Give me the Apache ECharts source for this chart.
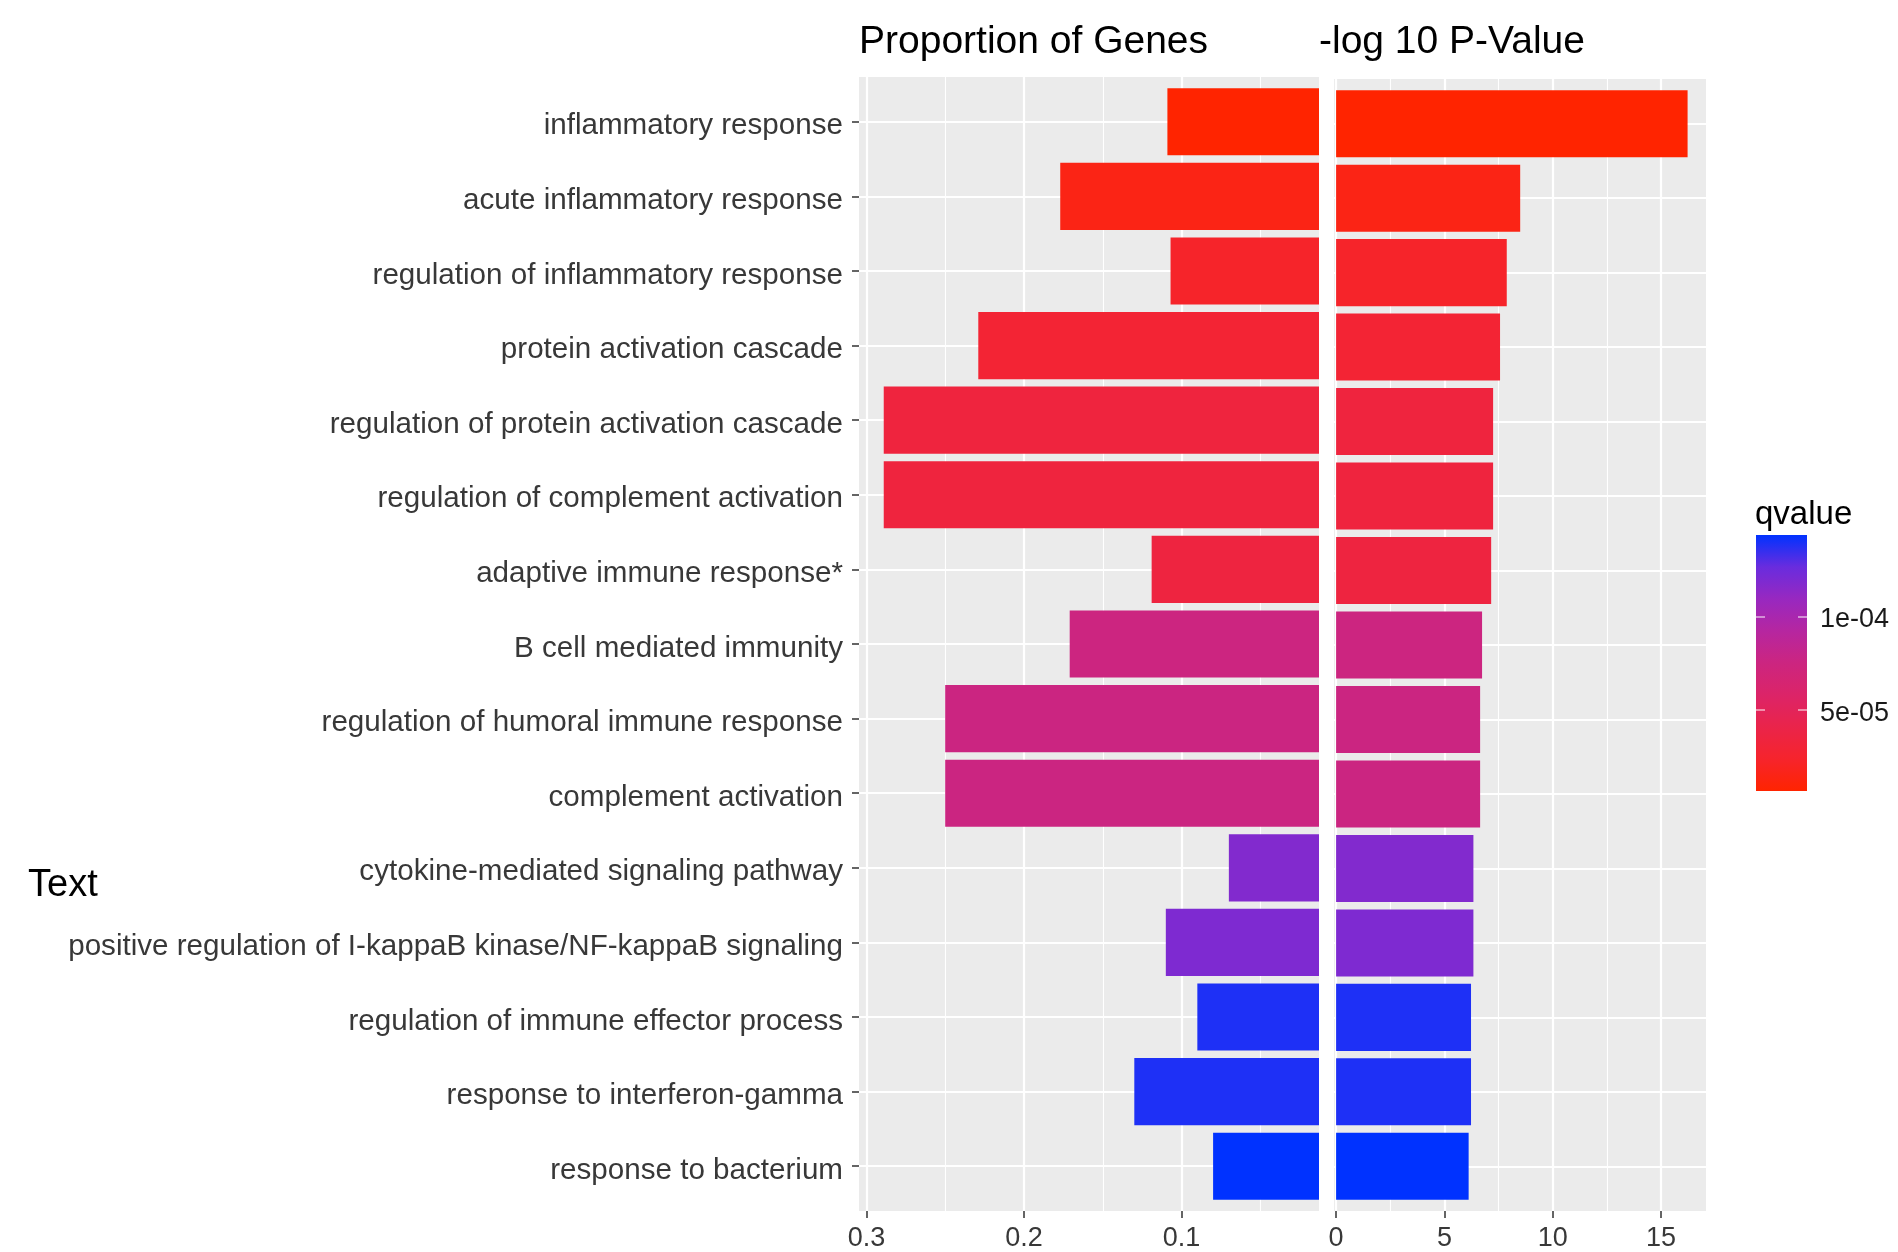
<!DOCTYPE html>
<html>
<head>
<meta charset="utf-8">
<script src="https://cdn.jsdelivr.net/npm/echarts@6/dist/echarts.min.js"></script>
<style>
html,body{margin:0;padding:0;background:#fff;}
#c{width:1898px;height:1252px;}
</style>
</head>
<body>
<div id="c"></div>
<script>
// ---------------- data ----------------
const categories = [
  'inflammatory response',
  'acute inflammatory response',
  'regulation of inflammatory response',
  'protein activation cascade',
  'regulation of protein activation cascade',
  'regulation of complement activation',
  'adaptive immune response*',
  'B cell mediated immunity',
  'regulation of humoral immune response',
  'complement activation',
  'cytokine-mediated signaling pathway',
  'positive regulation of I-kappaB kinase/NF-kappaB signaling',
  'regulation of immune effector process',
  'response to interferon-gamma',
  'response to bacterium'
];
const proportion = [0.109, 0.177, 0.107, 0.229, 0.289, 0.289, 0.119, 0.171, 0.250, 0.250, 0.070, 0.110, 0.090, 0.130, 0.080];
const negLog10P  = [16.23, 8.50, 7.88, 7.57, 7.25, 7.25, 7.16, 6.74, 6.65, 6.65, 6.34, 6.34, 6.23, 6.23, 6.12];
const qvalue     = [6.9e-06, 1.51e-05, 2.33e-05, 2.88e-05, 3.42e-05, 3.42e-05, 3.56e-05, 7.52e-05, 7.6e-05, 7.6e-05, 1.175e-04, 1.189e-04, 1.387e-04, 1.387e-04, 1.435e-04];

const propTicks = [0.1, 0.2, 0.3];
const propMinorTicks = [0.05, 0.15, 0.25];
const pTicks = [0, 5, 10, 15];
const pMinorTicks = [2.5, 7.5, 12.5];
const qTicks = [5e-05, 1e-04];
const qTickLabels = ['5e-05', '1e-04'];

const titleLeft = 'Proportion of Genes';
const titleRight = '-log 10 P-Value';
const legendTitle = 'qvalue';
const sideText = 'Text';

// ---------------- styling / layout ----------------
const FONT = "'Liberation Sans', Arial, Helvetica, sans-serif";
const palette = ['#FF2400', '#F6242C', '#EA244A', '#DC2468', '#CC2580', '#B626A0', '#9828C0', '#692CDE', '#0032FF'];
const PANEL_BG = '#EBEBEB';
const AXIS_TEXT = '#383838';
const TICK = '#333333';

const qMin = Math.min(...qvalue);
const qMax = Math.max(...qvalue);
const catPos = categories.map((c, i) => i + 1);

// panel geometry (ggplot discrete expansion 0.6 on each side)
const L = {left: 859, top: 77, width: 460, height: 1134};
const R = {left: 1334, top: 79, width: 372, height: 1132};
function inner(p) {
  const unit = p.height / (categories.length + 0.2);
  return {left: p.left, width: p.width, top: p.top + 0.1 * unit, height: unit * categories.length};
}
const Li = inner(L), Ri = inner(R);

const leftMin = 0.0128, leftMax = 0.3047;
const rightMin = -0.097, rightMax = 17.08;

function grid(p, bg) {
  return Object.assign({
    outerBoundsMode: 'none', containLabel: false,
    show: !!bg, backgroundColor: bg || 'transparent', borderWidth: 0
  }, p);
}

const majorSplit = {show: true, lineStyle: {color: '#FFFFFF', width: 2.2}};
const minorSplit = {show: true, lineStyle: {color: '#FFFFFF', width: 1.1}};

function valueX(gridIndex, min, max, inverse, ticks, opts) {
  return Object.assign({
    type: 'value', gridIndex, min, max, inverse,
    axisLine: {show: false},
    axisTick: {show: true, length: 7, customValues: ticks, lineStyle: {color: TICK, width: 1.5}},
    axisLabel: {show: true, customValues: ticks, fontSize: 27, color: AXIS_TEXT, fontFamily: FONT, margin: 14,
                formatter: v => String(v)},
    splitLine: majorSplit, minorSplitLine: {show: false}
  }, opts || {});
}
function minorX(gridIndex, min, max, inverse, ticks) {
  return {
    type: 'value', gridIndex, min, max, inverse, position: 'top',
    axisLine: {show: false},
    axisTick: {show: false, customValues: ticks},
    axisLabel: {show: false, customValues: ticks},
    splitLine: minorSplit
  };
}
function hiddenX(gridIndex, min, max, inverse) {
  return {type: 'value', gridIndex, min, max, inverse, show: false, splitLine: {show: false}};
}

const option = {
  animation: false,
  backgroundColor: '#FFFFFF',
  textStyle: {fontFamily: FONT},
  title: [
    {text: titleLeft, left: 859, top: 23, padding: 0,
     textStyle: {fontSize: 39, fontWeight: 'normal', color: '#000', fontFamily: FONT}},
    {text: titleRight, left: 1319, top: 23, padding: 0,
     textStyle: {fontSize: 39, fontWeight: 'normal', color: '#000', fontFamily: FONT}},
    {text: legendTitle, left: 1755, top: 498, padding: 0,
     textStyle: {fontSize: 33, fontWeight: 'normal', color: '#000', fontFamily: FONT}},
    {text: sideText, left: 28, top: 867, padding: 0,
     textStyle: {fontSize: 38, fontWeight: 'normal', color: '#000', fontFamily: FONT}}
  ],
  grid: [
    grid(L, PANEL_BG),
    grid(Li),
    grid(R, PANEL_BG),
    grid(Ri),
    grid({left: 1756, top: 535, width: 51, height: 256})
  ],
  xAxis: [
    valueX(0, leftMin, leftMax, true, propTicks),
    minorX(0, leftMin, leftMax, true, propMinorTicks),
    hiddenX(1, leftMin, leftMax, true),
    valueX(2, rightMin, rightMax, false, pTicks),
    minorX(2, rightMin, rightMax, false, pMinorTicks),
    hiddenX(3, rightMin, rightMax, false),
    {type: 'category', gridIndex: 4, data: [''], show: false}
  ],
  yAxis: [
    {type: 'value', gridIndex: 0, min: 0.4, max: categories.length + 0.6, inverse: true,
     axisLine: {show: false},
     axisTick: {show: true, length: 7, customValues: catPos, lineStyle: {color: TICK, width: 1.5}},
     axisLabel: {show: true, customValues: catPos, fontSize: 29.6, color: AXIS_TEXT, fontFamily: FONT, margin: 16,
                 formatter: v => '{c|' + categories[Math.round(v) - 1] + '}',
                 rich: {c: {fontSize: 29.6, color: AXIS_TEXT, fontFamily: FONT, padding: [9, 0, 0, 0]}}},
     splitLine: majorSplit},
    {type: 'category', gridIndex: 1, data: categories, inverse: true, show: false},
    {type: 'value', gridIndex: 2, min: 0.4, max: categories.length + 0.6, inverse: true,
     axisLine: {show: false},
     axisTick: {show: false, customValues: catPos},
     axisLabel: {show: false, customValues: catPos},
     splitLine: majorSplit},
    {type: 'category', gridIndex: 3, data: categories, inverse: true, show: false},
    {type: 'value', gridIndex: 4, min: qMin, max: qMax, position: 'right', z: 5,
     axisLine: {show: false},
     axisTick: {show: true, inside: true, length: 9, customValues: qTicks,
                lineStyle: {color: 'rgba(255,255,255,0.65)', width: 1.5}},
     axisLabel: {show: true, customValues: qTicks, fontSize: 27, color: '#1A1A1A', fontFamily: FONT, margin: 13,
                 formatter: v => '{q|' + qTickLabels[qTicks.indexOf(v)] + '}',
                 rich: {q: {fontSize: 27, color: '#1A1A1A', fontFamily: FONT, padding: [6, 0, 0, 0]}}},
     splitLine: {show: false}},
    {type: 'value', gridIndex: 4, min: qMin, max: qMax, position: 'left', z: 5,
     axisLine: {show: false},
     axisTick: {show: true, inside: true, length: 9, customValues: qTicks,
                lineStyle: {color: 'rgba(255,255,255,0.65)', width: 1.5}},
     axisLabel: {show: false, customValues: qTicks},
     splitLine: {show: false}}
  ],
  visualMap: {
    type: 'continuous', show: false, dimension: 2, seriesIndex: [0, 1],
    min: qMin, max: qMax, inRange: {color: palette}
  },
  series: [
    {type: 'bar', name: 'Proportion of Genes', xAxisIndex: 2, yAxisIndex: 1,
     barCategoryGap: '10%', clip: true, silent: true,
     encode: {x: 0, y: 1},
     data: categories.map((c, i) => [proportion[i], c, qvalue[i]])},
    {type: 'bar', name: '-log 10 P-Value', xAxisIndex: 5, yAxisIndex: 3,
     barCategoryGap: '10%', clip: true, silent: true,
     encode: {x: 0, y: 1},
     data: categories.map((c, i) => [negLog10P[i], c, qvalue[i]])},
    {type: 'bar', name: 'qvalue', xAxisIndex: 6, yAxisIndex: 4,
     barWidth: '100%', clip: true, silent: true,
     itemStyle: {color: new echarts.graphic.LinearGradient(0, 0, 0, 1,
        palette.map((c, i) => ({offset: 1 - i / (palette.length - 1), color: c})).reverse())},
     data: [qMax]}
  ]
};

const chart = echarts.init(document.getElementById('c'), null, {renderer: 'canvas'});
chart.setOption(option);
</script>
</body>
</html>
